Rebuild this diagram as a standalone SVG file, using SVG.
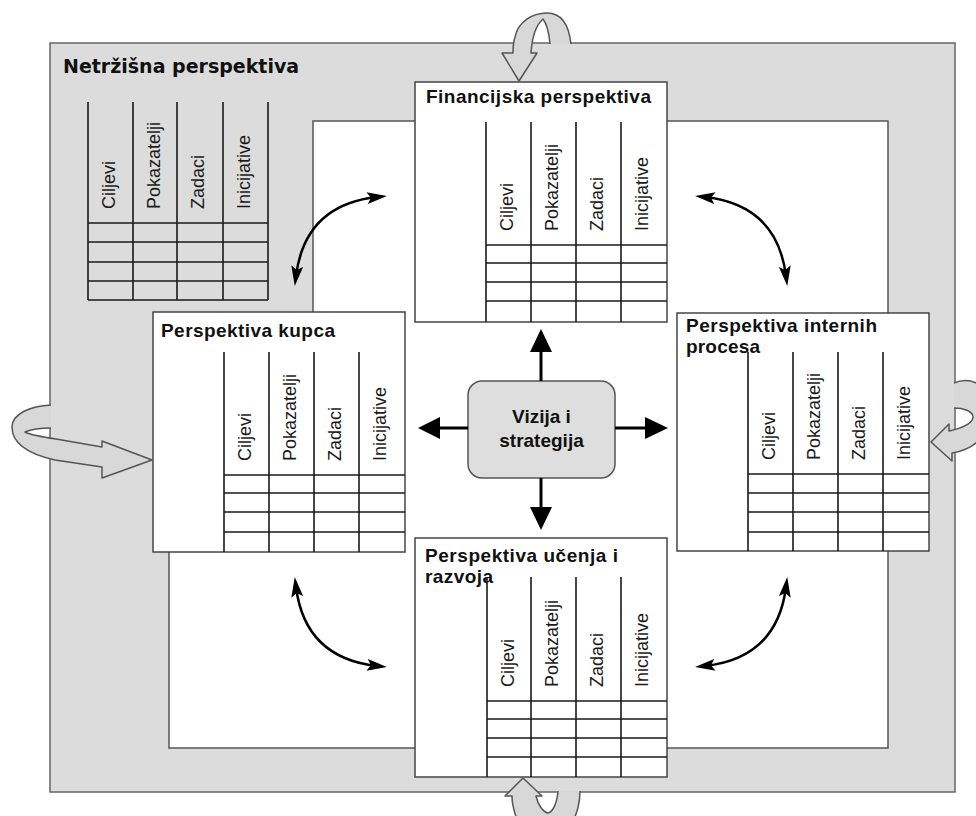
<svg xmlns="http://www.w3.org/2000/svg" width="976" height="816" viewBox="0 0 976 816">
<defs>
<style>
.frame{fill:#dcdcdc;stroke:#666;stroke-width:1.5}
.inner{fill:#fff;stroke:#555;stroke-width:1.5}
.box{fill:#fff;stroke:#444;stroke-width:1.5}
.tl{stroke:#1a1a1a;stroke-width:1.6;fill:none}
.title{font-family:"Liberation Sans",Arial,sans-serif;font-weight:bold;font-size:19px;fill:#111}
.col{font-family:"Liberation Sans",Arial,sans-serif;font-size:18px;fill:#1a1a1a}
.ntitle{font-family:"DejaVu Sans",Verdana,sans-serif;font-weight:bold;font-size:19px;fill:#111}
.center{fill:#dedede;stroke:#555;stroke-width:1.5}
.ctext{font-family:"Liberation Sans",Arial,sans-serif;font-weight:bold;font-size:19px;fill:#111;text-anchor:middle}
.shaft{stroke:#000;stroke-width:3;fill:none}
.head{fill:#000}
.curve{stroke:#000;stroke-width:2.5;fill:none;marker-start:url(#ah);marker-end:url(#ah)}
.rfill{fill:#d8d8d8;stroke:none}
.rline{fill:none;stroke:#555;stroke-width:1.5;stroke-linejoin:round}
</style>
<marker id="ah" viewBox="0 0 20 12" refX="10" refY="6" markerWidth="20" markerHeight="12" markerUnits="userSpaceOnUse" orient="auto-start-reverse">
<path d="M0,0 L20,6 L0,12 L4,6 z" fill="#000"/>
</marker>
</defs>

<g id="frame">
<rect class="frame" x="50" y="43" width="905" height="749"/>
<polygon class="inner" points="313,121 888,121 888,748 169,748 169,430 313,430"/>
<text class="ntitle" x="63" y="73">Netržišna perspektiva</text>
</g>

<g id="netrzisna-table">
<path class="tl" d="M88,102V300M133,102V300M177,102V300M223,102V300M268,102V300M88,223H268M88,242H268M88,262H268M88,281H268M88,300H268"/>
<text class="col" transform="translate(115,209) rotate(-90)">Ciljevi</text>
<text class="col" transform="translate(160,209) rotate(-90)">Pokazatelji</text>
<text class="col" transform="translate(204,209) rotate(-90)">Zadaci</text>
<text class="col" transform="translate(250,209) rotate(-90)">Inicijative</text>
</g>

<g id="financijska">
<rect class="box" x="415" y="82" width="252" height="240"/>
<text class="title" x="426" y="103" textLength="225" lengthAdjust="spacing">Financijska perspektiva</text>
<path class="tl" d="M486,122V322M531,122V322M576,122V322M621,122V322M486,245H667M486,263H667M486,282H667M486,301H667"/>
<text class="col" transform="translate(513,231) rotate(-90)">Ciljevi</text>
<text class="col" transform="translate(558,231) rotate(-90)">Pokazatelji</text>
<text class="col" transform="translate(603,231) rotate(-90)">Zadaci</text>
<text class="col" transform="translate(648,231) rotate(-90)">Inicijative</text>
</g>

<g id="kupca">
<rect class="box" x="153" y="312" width="252" height="240"/>
<text class="title" x="161" y="337" textLength="174" lengthAdjust="spacing">Perspektiva kupca</text>
<path class="tl" d="M224,352V552M269,352V552M314,352V552M359,352V552M224,475H405M224,493H405M224,512H405M224,532H405"/>
<text class="col" transform="translate(251,461) rotate(-90)">Ciljevi</text>
<text class="col" transform="translate(296,461) rotate(-90)">Pokazatelji</text>
<text class="col" transform="translate(341,461) rotate(-90)">Zadaci</text>
<text class="col" transform="translate(386,461) rotate(-90)">Inicijative</text>
</g>

<g id="internih">
<rect class="box" x="677" y="313" width="252" height="238"/>
<text class="title" x="686" y="332" textLength="191" lengthAdjust="spacing">Perspektiva internih</text>
<text class="title" x="686" y="353" textLength="74" lengthAdjust="spacing">procesa</text>
<path class="tl" d="M748,352V551M793,352V551M838,352V551M883,352V551M748,474H929M748,493H929M748,512H929M748,532H929"/>
<text class="col" transform="translate(775,460) rotate(-90)">Ciljevi</text>
<text class="col" transform="translate(820,460) rotate(-90)">Pokazatelji</text>
<text class="col" transform="translate(865,460) rotate(-90)">Zadaci</text>
<text class="col" transform="translate(910,460) rotate(-90)">Inicijative</text>
</g>

<g id="ucenja">
<rect class="box" x="415" y="538" width="252" height="239"/>
<text class="title" x="425" y="562" textLength="193" lengthAdjust="spacing">Perspektiva učenja i</text>
<text class="title" x="425" y="583" textLength="68" lengthAdjust="spacing">razvoja</text>
<path class="tl" d="M487,577V777M531,577V777M576,577V777M621,577V777M487,701H667M487,719H667M487,738H667M487,757H667"/>
<text class="col" transform="translate(514,687) rotate(-90)">Ciljevi</text>
<text class="col" transform="translate(558,687) rotate(-90)">Pokazatelji</text>
<text class="col" transform="translate(603,687) rotate(-90)">Zadaci</text>
<text class="col" transform="translate(648,687) rotate(-90)">Inicijative</text>
</g>

<g id="vizija">
<rect class="center" x="468" y="381" width="147" height="97" rx="14"/>
<text class="ctext" x="541.5" y="423">Vizija i</text>
<text class="ctext" x="541.5" y="447">strategija</text>
</g>

<g id="connectors">
<path class="shaft" d="M541,381V350M541,478V509M468,428H438M615,428H647"/>
<polygon class="head" points="530,352 552,352 541,329"/>
<polygon class="head" points="530,507 552,507 541,530"/>
<polygon class="head" points="440,417 440,439 418,428"/>
<polygon class="head" points="645,417 645,439 668,428"/>

<path class="curve" d="M296,276 Q305,205 377,197"/>
<path class="curve" d="M786,276 Q777,205 705,197"/>
<path class="curve" d="M296,587 Q305,658 377,666"/>
<path class="curve" d="M786,587 Q777,658 705,666"/>

<path class="rfill" d="M571,44 C569,26 562,13 547,13 C532,13 518,22 515,37 C513,43 513,48 513,53 L502,53 L519,81 L537,53 L531,53 C532,38 536,25 543,19 C547,24 549,33 550,44 Z"/>
<path class="rline" d="M571,44 C569,26 562,13 547,13 C532,13 518,22 515,37 C513,43 513,48 513,53 L502,53 L519,81 L537,53 L531,53 C532,38 536,25 543,19 C547,24 549,33 550,44"/>

<path class="rfill" d="M51,405 C30,406 12,414 12,427 C12,443 28,454 55,460 L102,467 L102,478 L152,460 L102,441 L102,447 L56,439 C42,437 31,435 25,432 C32,429 42,428 51,428 Z"/>
<path class="rline" d="M51,405 C30,406 12,414 12,427 C12,443 28,454 55,460 L102,467 L102,478 L152,460 L102,441 L102,447 L56,439 C42,437 31,435 25,432 C32,429 42,428 51,428"/>

<path class="rfill" d="M954,383 C968,377 990,382 990,408 C990,436 975,449 952,453 L952,461 L931,442 L949,424 L949,431 C962,428 973,423 973,417 C973,411 963,408 954,408 Z"/>
<path class="rline" d="M954,383 C968,377 990,382 990,408 C990,436 975,449 952,453 L952,461 L931,442 L949,424 L949,431 C962,428 973,423 973,417 C973,411 963,408 954,408"/>

<path class="rfill" d="M580,791 C580,804 577,812 573,822 L518,822 C514,812 512,803 512,796 L505,796 L523,778 L542,796 L536,796 C538,805 543,812 548,813 C553,812 557,803 558,791 Z"/>
<path class="rline" d="M580,791 C580,804 577,812 573,822 M518,822 C514,812 512,803 512,796 L505,796 L523,778 L542,796 L536,796 C538,805 543,812 548,813 C553,812 557,803 558,791"/>
</g>
</svg>
